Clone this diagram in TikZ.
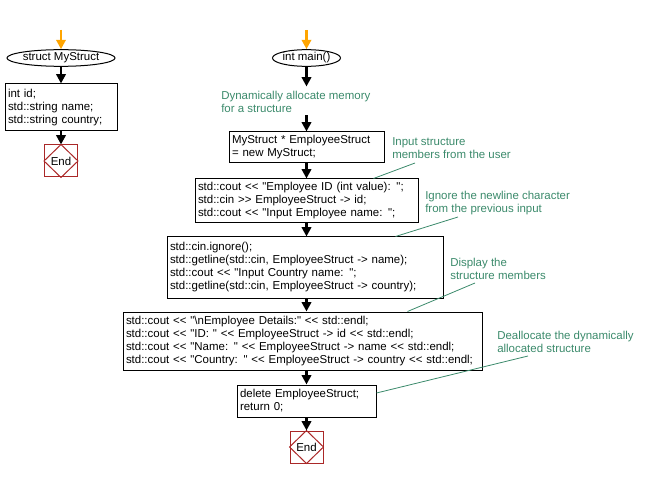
\documentclass[tikz,border=0pt]{standalone}
\usepackage{fontspec}
\setmainfont{Liberation Sans}[Ligatures=TeXOff]
\usetikzlibrary{shapes.geometric,arrows.meta,calc}
\definecolor{cmtgreen}{RGB}{59,138,107}
\definecolor{endred}{RGB}{170,40,40}
\definecolor{startor}{RGB}{255,165,0}
\begin{document}
\begin{tikzpicture}[x=0.75pt,y=-0.75pt,
  font=\fontsize{8.6pt}{9.75pt}\selectfont,
  codebox/.style={draw, line width=0.75pt, rectangle, align=left, inner xsep=2.25pt, inner ysep=0pt},
  term/.style={draw, ellipse, line width=0.75pt, inner sep=0pt, minimum height=12.5pt},
  endbox/.style={draw=endred, line width=0.75pt, minimum width=24.75pt, minimum height=24pt, inner sep=0pt},
  cmt/.style={text=cmtgreen, align=left, inner sep=0pt, anchor=north west},
  arr/.style={line width=2.2pt, -{Triangle[length=7pt,width=7pt]}},
  startarr/.style={arr, draw=startor, fill=startor},
  note/.style={draw=cmtgreen, line width=0.6pt}]
\useasboundingbox (0,0) rectangle (658,478);

% ---- left column ----
\coordinate (s1) at (61,30);
\node[term, minimum width=72pt] (el1) at (61,58) {struct MyStruct};
\node[codebox, text width=79.5pt, minimum height=35.25pt] (b1) at (61,107.5)
  {int id;\\std::string name;\\std::string country;};
\node[endbox] (end1) at (61,161) {End};
\draw[endred, line width=0.75pt] (end1.north) -- (end1.east) -- (end1.south) -- (end1.west) -- cycle;
\draw[startarr] (s1) -- (el1.north);
\draw[arr] (el1.south) -- (b1.north);
\draw[arr] (b1.south) -- (end1.north);

% ---- main column ----
\coordinate (s2) at (306.5,30);
\node[term, minimum width=51pt] (el2) at (306.5,58) {int main()};
\node[cmt] (c1) at (221,90.5) {Dynamically allocate memory\\for a structure};
\node[codebox, text width=111.75pt, minimum height=23.25pt] (b2) at (306.5,147.5)
  {MyStruct * EmployeeStruct\\= new MyStruct;};
\node[codebox, text width=162.75pt, minimum height=33pt] (b3) at (306.5,201)
  {std::cout << "Employee ID (int value): ";\\std::cin >> EmployeeStruct -> id;\\std::cout << "Input Employee name: ";};
\node[codebox, text width=202.5pt, minimum height=45.75pt] (b4) at (305,267.5)
  {std::cin.ignore();\\std::getline(std::cin, EmployeeStruct -> name);\\std::cout << "Input Country name: ";\\std::getline(std::cin, EmployeeStruct -> country);};
\node[codebox, text width=264.75pt, minimum height=43.5pt] (b5) at (302.5,341)
  {std::cout << "\textbackslash nEmployee Details:" << std::endl;\\std::cout << "ID: " << EmployeeStruct -> id << std::endl;\\std::cout << "Name: " << EmployeeStruct -> name << std::endl;\\std::cout << "Country: " << EmployeeStruct -> country << std::endl;};
\node[codebox, text width=99.75pt, minimum height=24pt] (b6) at (306.5,401)
  {delete EmployeeStruct;\\return 0;};
\node[endbox] (end2) at (306.5,447) {End};
\draw[endred, line width=0.75pt] (end2.north) -- (end2.east) -- (end2.south) -- (end2.west) -- cycle;

\draw[startarr] (s2) -- (el2.north);
\draw[arr] (el2.south) -- ([yshift=3pt]el2.south |- c1.north);
\draw[arr] ([yshift=-2pt]b2.north |- c1.south) -- (b2.north);
\draw[arr] (b2.south) -- (b3.north);
\draw[arr] (b3.south) -- (b4.north -| b3.south);
\draw[arr] (b4.south -| b3.south) -- (b5.north -| b3.south);
\draw[arr] (b5.south -| b3.south) -- (b6.north);
\draw[arr] (b6.south) -- (end2.north);

% ---- comments ----
\node[cmt] (c2) at (392,137.5) {Input structure\\members from the user};
\node[cmt] (c3) at (425,190.5) {Ignore the newline character\\from the previous input};
\node[cmt] (c4) at (450,257.5) {Display the\\structure members};
\node[cmt] (c5) at (497,330.5) {Deallocate the dynamically\\allocated structure};

\coordinate (k2) at (415,163);
\coordinate (k3) at (458,217);
\coordinate (k4) at (475,283);
\coordinate (k5) at (528,356);
\draw[note] (k2) -- ([xshift=-33.75pt]b3.north east);
\draw[note] (k3) -- ([xshift=-36pt]b4.north east);
\draw[note] (k4) -- ([xshift=-56.25pt]b5.north east);
\draw[note] (k5) -- ([yshift=6pt]b6.east);
\end{tikzpicture}
\end{document}
